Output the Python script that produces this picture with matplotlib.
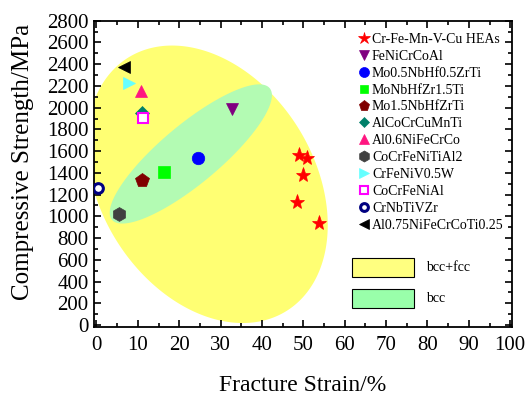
import numpy as np
import matplotlib
matplotlib.use("Agg")
import matplotlib.pyplot as plt
from matplotlib.patches import Rectangle

plt.rcParams['font.family'] = ['Liberation Serif', 'DejaVu Serif']
plt.rcParams['mathtext.fontset'] = 'stix'

# ---- data (fracture strain %, compressive strength MPa) ----
alloys = ['Cr-Fe-Mn-V-Cu HEAs', 'FeNiCrCoAl', 'Mo0.5NbHf0.5ZrTi', 'MoNbHfZr1.5Ti',
          'Mo1.5NbHfZrTi', 'AlCoCrCuMnTi', 'Al0.6NiFeCrCo', 'CoCrFeNiTiAl2',
          'CrFeNiV0.5W', 'CoCrFeNiAl', 'CrNbTiVZr', 'Al0.75NiFeCrCoTi0.25']
strain = [[49.0, 50.8, 49.8, 48.5, 53.8], [32.7], [24.6], [16.3], [10.9], [11.0],
          [10.7], [5.4], [7.8], [11.2], [0.4], [6.6]]
strength = [[1560, 1540, 1380, 1130, 940], [1990], [1535], [1405], [1330], [1950],
            [2155], [1020], [2230], [1905], [1265], [2375]]

# marker, face, edge, size
styles = [('*', 'red', 'red', 11), ('v', '#800080', '#800080', 9),
          ('o', '#0000FF', '#0000FF', 9), ('s', '#00FF00', '#00FF00', 8),
          ('p', '#800000', '#800000', 10), ('D', '#00806A', '#00806A', 7),
          ('^', '#FF1680', '#FF1680', 9), ('h', '#404040', '#404040', 10),
          ('>', '#66FFFF', '#66FFFF', 9), ('s', 'white', '#FF00FF', 7),
          ('o', 'white', '#000080', 7), ('<', 'black', 'black', 9)]

# phase regions as ellipses: centre x, centre y, half-width x, half-height y, correlation
phase_regions = {
    'bcc+fcc': (26.8, 1295, 29.1, 1276, -0.293, '#FFFF73'),
    'bcc': (22.8, 1574, 19.6, 640, 0.843, '#B3FBB3'),
}
legend_box_colors = {'bcc+fcc': '#FFFF80', 'bcc': '#99FFAA'}

fig = plt.figure(figsize=(5.31, 3.97), dpi=100)
ax = fig.add_axes([0.177, 0.177, 0.787, 0.771])

t = np.linspace(0, 2 * np.pi, 400)
for name, (cx, cy, wx, hy, rho, col) in phase_regions.items():
    ex = cx + wx * np.cos(t)
    ey = cy + hy * (rho * np.cos(t) + np.sqrt(1 - rho ** 2) * np.sin(t))
    ax.fill(ex, ey, color=col, lw=0, zorder=0)

for name, xs, ys, (m, fc, ec, ms) in zip(alloys, strain, strength, styles):
    mew = 2.2 if (fc == 'white' and m == 'o') else 1.5 if fc == 'white' else 0.5
    ax.plot(xs, ys, ls='none', marker=m, ms=ms, mfc=fc, mec=ec, mew=mew, label=name, zorder=3)

ax.set_xlim(-0.6, 100.4)
ax.set_ylim(-15, 2800)
ax.set_xticks(np.arange(0, 101, 10))
ax.set_xticks(np.arange(0, 101, 5), minor=True)
ax.set_yticks(np.arange(0, 2801, 200))
ax.set_yticks(np.arange(0, 2801, 100), minor=True)
ax.tick_params(which='both', direction='in', top=True, right=True, width=1.2)
ax.tick_params(which='major', length=5, labelsize=15, pad=4)
ax.tick_params(which='minor', length=3)
ax.tick_params(axis='x', pad=7)
for s in ax.spines.values():
    s.set_linewidth(1.3)

ax.set_xlabel('Fracture Strain/%', fontsize=17, labelpad=14)
ax.set_ylabel('Compressive Strength/MPa', fontsize=18)
ax.yaxis.set_label_coords(-0.144, 0.54)

ax.legend(loc='upper left', bbox_to_anchor=(0.632, 0.96), frameon=False, fontsize=10,
          markerscale=0.8, handlelength=0.8, handletextpad=0.2, labelspacing=0.28,
          borderpad=0, borderaxespad=0)

# phase legend boxes
box_y = {'bcc+fcc': 0.161, 'bcc': 0.060}
for name, by in box_y.items():
    ax.add_patch(Rectangle((0.618, by), 0.148, 0.064, transform=ax.transAxes,
                           fc=legend_box_colors[name], ec='black', lw=0.8, zorder=4))
    ax.text(0.795, by + 0.033, name, transform=ax.transAxes, fontsize=10,
            va='center', ha='left')

fig.savefig('out.png', dpi=100)
